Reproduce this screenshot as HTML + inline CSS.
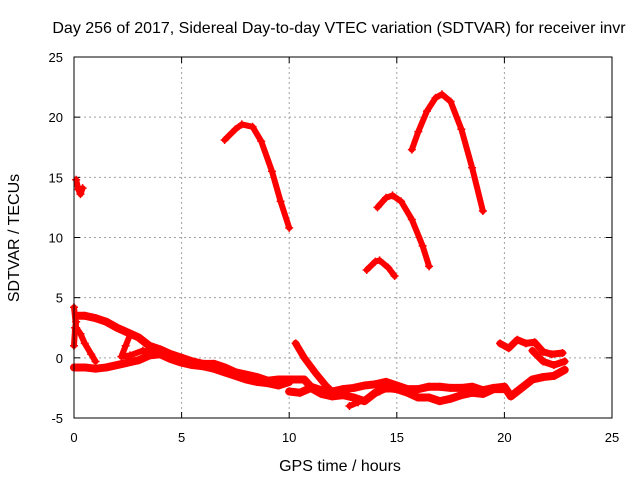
<!DOCTYPE html>
<html><head><meta charset="utf-8"><style>
body{margin:0;background:#fff;}
svg text{font-family:"Liberation Sans",sans-serif;font-size:13px;fill:#000;}
svg text.big{font-size:16px;}
</style></head><body>
<svg id="chart" width="640" height="480">
<text class="big" x="339" y="33" text-anchor="middle">Day 256 of 2017, Sidereal Day-to-day VTEC variation (SDTVAR) for receiver invr</text>
<text class="big" x="340" y="471" text-anchor="middle">GPS time / hours</text>
<text class="big" x="19" y="238" text-anchor="middle" transform="rotate(-90 19 238)">SDTVAR / TECUs</text>
<g id="grid"></g><g id="marks"></g>
<rect x="74" y="57" width="538" height="361" fill="none" stroke="#000" stroke-width="1"/>
</svg>
<script>
const xTicks=[0,5,10,15,20,25];
const yTicks=[-5,0,5,10,15,20,25];
const arcA=[[7.0,18.1],[7.5,19.0],[7.8,19.4],[8.3,19.2],[8.7,18.0],[9.2,15.5],[9.6,13.0],[10.0,10.8]];
const arcB=[[14.1,12.5],[14.5,13.3],[14.8,13.5],[15.2,13.0],[15.7,11.5],[16.2,9.3],[16.5,7.6]];
const arcC=[[13.6,7.3],[14.0,8.0],[14.2,8.1],[14.6,7.5],[14.9,6.8]];
const arcD=[[15.7,17.3],[16.0,18.8],[16.4,20.5],[16.8,21.6],[17.1,21.9],[17.5,21.3],[18.0,19.0],[18.5,15.8],[19.0,12.2]];
const arcE=[[0.1,14.8],[0.2,14.0],[0.3,13.6],[0.4,14.1]];
const bandUpper=[[0.1,3.5],[0.5,3.5],[1,3.3],[1.5,3.0],[2,2.5],[2.5,2.1],[3,1.7],[3.5,1.0],[4,0.7],[4.5,0.3],[5,0],[5.5,-0.3],[6,-0.5],[6.5,-0.5],[7,-0.8],[7.5,-1.2],[8,-1.4],[8.5,-1.6],[9,-1.9],[9.5,-1.8],[10,-1.8]];
const bandLower=[[0,-0.8],[0.5,-0.8],[1,-0.9],[1.5,-0.8],[2,-0.6],[2.5,-0.4],[3,-0.2],[3.5,0.2],[4,0.3],[4.5,-0.1],[5,-0.4],[5.5,-0.6],[6,-0.7],[6.5,-0.9],[7,-1.2],[7.5,-1.5],[8,-1.8],[8.5,-2.0],[9,-2.1],[9.5,-2.3],[10,-2.0]];
const dipLoop=[[0.0,4.2],[0.1,2.5],[0.3,2.0],[0.5,1.2],[0.8,0.3],[1.0,-0.3]];
const earlyStub=[[0.0,1.0],[0.05,2.5],[0.1,3.0]];
const loopMid=[[2.6,1.9],[2.4,1.0],[2.2,0.1],[2.6,0.2],[3.2,0.6],[3.8,0.4]];
const diagRight=[[10.3,1.2],[10.7,0],[11.2,-1.2],[11.7,-2.3],[12.1,-3.0]];
const trackRight=[[10.0,-1.8],[10.7,-1.8],[11,-2.4],[11.5,-2.7],[12,-2.8],[12.5,-2.6],[13,-2.5],[13.5,-2.3],[14,-2.2],[14.5,-2.0],[15,-2.3],[15.5,-2.6],[16,-2.6],[16.5,-2.4],[17,-2.4],[17.5,-2.5],[18,-2.5],[18.5,-2.4],[19,-2.7],[19.5,-2.5],[20,-2.4],[20.3,-3.2],[20.8,-2.5],[21.3,-1.8],[21.8,-1.6],[22.3,-1.5],[22.8,-1.0]];
const trackLower=[[10,-2.8],[10.5,-2.9],[11,-2.5],[11.5,-3.0],[12,-3.2],[12.5,-3.1],[13,-3.3],[13.5,-3.6],[14,-2.9],[14.5,-2.5],[15,-2.6],[15.5,-2.9],[16,-3.3],[16.5,-3.3],[17,-3.6],[17.5,-3.4],[18,-3.1],[18.5,-2.9],[19,-3.0],[19.5,-2.6],[20,-2.6]];
const dipRight=[[12.8,-4.0],[13.2,-3.7],[13.7,-3.3],[14.2,-2.8],[14.6,-2.2]];
const upperRight=[[19.8,1.2],[20.2,0.8],[20.6,1.5],[21,1.2],[21.4,1.3],[21.8,0.5],[22.2,0.3],[22.7,0.4]];
const lowerRight=[[21.3,0.6],[21.8,-0.3],[22.3,-0.6],[22.8,-0.3]];
const series=[arcA,arcB,arcC,arcD,arcE,bandUpper,bandLower,dipLoop,earlyStub,loopMid,diagRight,trackRight,trackLower,dipRight,upperRight,lowerRight];
const seriesNames=['arc-a','arc-b','arc-c','arc-d','arc-e','band-upper','band-lower','dip-loop','early-stub','loop-mid','diag-right','track-right','track-lower','dip-right','upper-right','lower-right'];
const seriesWidth=[6,6,6,6,6,8,8,6,6,6,7,8,8,6,7,7];

const NS='http://www.w3.org/2000/svg';
const X0=74,X1=612,Y0=418,Y1=57;
function xs(t){return X0+(t-0)/(25-0)*(X1-X0);}
function ys(v){return Y0-(v+5)/(30)*(Y0-Y1);}
function mk(tag,attrs,parent){const e=document.createElementNS(NS,tag);for(const k in attrs)e.setAttribute(k,attrs[k]);parent.appendChild(e);return e;}
const grid=document.getElementById('grid'),marks=document.getElementById('marks');
xTicks.forEach(t=>{
  const x=xs(t);
  if(t>0&&t<25){const l=mk('line',{x1:x,x2:x,y1:Y1,y2:Y0,stroke:'#a0a0a0','stroke-dasharray':'2,3'},grid);
  
  }
  mk('line',{x1:x,x2:x,y1:Y0,y2:Y0-6,stroke:'#000'},grid);
  mk('line',{x1:x,x2:x,y1:Y1,y2:Y1+6,stroke:'#000'},grid);
  const tx=mk('text',{x:x,y:442,'text-anchor':'middle'},grid);tx.textContent=t;
  
  
});
yTicks.forEach(v=>{
  const y=ys(v);
  if(v>-5&&v<25){const l=mk('line',{x1:X0,x2:X1,y1:y,y2:y,stroke:'#a0a0a0','stroke-dasharray':'2,3'},grid);
  
  }
  mk('line',{x1:X0,x2:X0+6,y1:y,y2:y,stroke:'#000'},grid);
  mk('line',{x1:X1,x2:X1-6,y1:y,y2:y,stroke:'#000'},grid);
  const tx=mk('text',{x:63,y:y+5,'text-anchor':'end'},grid);tx.textContent=v;
  
  
});
series.forEach((s,i)=>{
  const pts=s.map(p=>xs(p[0])+','+ys(p[1])).join(' ');
  const pl=mk('polyline',{points:pts,fill:'none',stroke:'#ff0000','stroke-width':seriesWidth[i],'stroke-linejoin':'round','stroke-linecap':'round'},marks);
  
  
  s.forEach(p=>{
    const x=xs(p[0]),y=ys(p[1]);
    const m=mk('path',{d:`M${x-4},${y}H${x+4}M${x},${y-4}V${y+4}`,stroke:'#ff0000','stroke-width':1.5},marks);
    
    
  });
});
</script>
</body></html>
